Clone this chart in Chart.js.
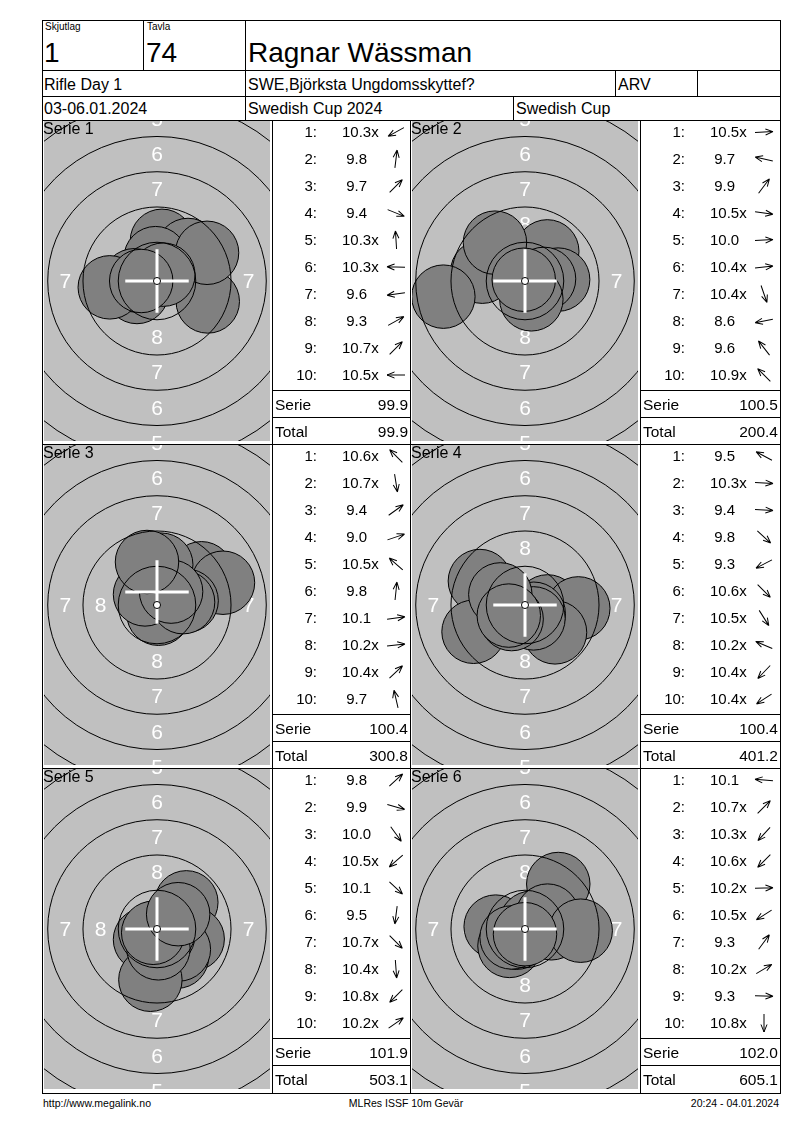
<!DOCTYPE html>
<html>
<head>
<meta charset="utf-8">
<script src="https://cdn.jsdelivr.net/npm/chart.js@4.4.1/dist/chart.umd.min.js"></script>
<style>
  body { margin: 0; background: #fff; }
  #page { position: relative; width: 800px; height: 1130px; font-family: "Liberation Sans", Arial, sans-serif; color: #000; overflow: hidden; }
  .ln { position: absolute; background: #000; }
  .tx { position: absolute; white-space: pre; }
  canvas { position: absolute; }
</style>
</head>
<body>
<div id="page"></div>
<script>
// header texts
const headerTop = ['Skjutlag', 'Tavla'];
const headerBig = ['1', '74', 'Ragnar Wässman'];
const headerRow2 = ['Rifle Day 1', 'SWE,Björksta Ungdomsskyttef?', 'ARV', ''];
const headerRow3 = ['03-06.01.2024', 'Swedish Cup 2024', 'Swedish Cup'];
const footer = ['http://www.megalink.no', 'MLRes ISSF 10m Gevär', '20:24 - 04.01.2024'];

const serieNames = ['Serie 1', 'Serie 2', 'Serie 3', 'Serie 4', 'Serie 5', 'Serie 6'];

// shot values per series
const shotScores = [
  ['10.3x', '9.8', '9.7', '9.4', '10.3x', '10.3x', '9.6', '9.3', '10.7x', '10.5x'],
  ['10.5x', '9.7', '9.9', '10.5x', '10.0', '10.4x', '10.4x', '8.6', '9.6', '10.9x'],
  ['10.6x', '10.7x', '9.4', '9.0', '10.5x', '9.8', '10.1', '10.2x', '10.4x', '9.7'],
  ['9.5', '10.3x', '9.4', '9.8', '9.3', '10.6x', '10.5x', '10.2x', '10.4x', '10.4x'],
  ['9.8', '9.9', '10.0', '10.5x', '10.1', '9.5', '10.7x', '10.4x', '10.8x', '10.2x'],
  ['10.1', '10.7x', '10.3x', '10.6x', '10.2x', '10.5x', '9.3', '10.2x', '9.3', '10.8x']
];

// shot positions in mm from centre (x right, y up)
const shotX = [
  [-1.42, 0.35, 2.2, 3.6, -0.1, -1.62, -3.35, 3.55, 0.45, -1.12],
  [1.12, -3.03, 1.58, 1.1, 2.35, 1.35, 0.45, -5.79, -2.13, -0.09],
  [-0.62, 0.1, 3.15, 4.68, -0.85, 0.3, 2.1, 1.85, 1.0, -0.71],
  [-3.2, 1.6, 3.78, 2.13, -3.65, 0.62, 0.6, -1.75, -0.95, -1.15],
  [2.08, 2.53, 1.42, -0.85, 1.55, -0.47, 0.45, 0.1, -0.27, 1.5],
  [-2.08, 0.44, -1.1, -0.62, 1.87, -0.95, 2.36, 1.6, 3.95, 0.0]
];
const shotY = [
  [-0.78, 2.85, 2.2, -1.45, 1.62, 0.05, -0.45, 2.0, 0.45, 0.0],
  [0.05, 0.66, 2.1, -0.15, 0.1, 0.15, -1.3, -1.11, 2.72, 0.09],
  [0.62, -0.62, 2.25, 1.58, 0.75, 2.86, 0.3, 0.2, 0.95, 3.05],
  [1.7, -0.1, -0.24, -1.94, -1.9, -0.62, -0.95, 0.75, -1.0, -0.75],
  [1.89, -0.71, -1.96, -0.75, -1.45, -3.6, -0.45, -1.37, -0.27, 1.05],
  [0.17, 0.44, -1.2, -0.62, 0.05, -0.6, 3.19, 0.95, -0.12, -0.37]
];

// white cross position (mm) per series
const crossX = [0, 0, 0, 0, 0, 0];
const crossY = [0, 0, 0.92, 0, 0, 0];

const serieTotals = ['99.9', '100.5', '100.4', '100.4', '101.9', '102.0'];
const runningTotals = ['99.9', '200.4', '300.8', '401.2', '503.1', '605.1'];

const ringNumbers = [1, 2, 3, 4, 5, 6, 7, 8];

// target geometry (ISSF 10m air rifle, mm)
const PELLET_R = 2.25;
const TEN_R = 0.25;
const RING_STEP = 2.5;
const PX_PER_MM = 14.1;
const TW = 226, TH = 320;

const page = document.getElementById('page');

function hline(x1, x2, y) {
  const d = document.createElement('div');
  d.className = 'ln';
  d.style.cssText = `left:${x1}px;top:${y}px;width:${x2 - x1 + 1}px;height:1px`;
  page.appendChild(d);
}
function vline(x, y1, y2) {
  const d = document.createElement('div');
  d.className = 'ln';
  d.style.cssText = `left:${x}px;top:${y1}px;width:1px;height:${y2 - y1 + 1}px`;
  page.appendChild(d);
}
function txt(x, cy, s, size, align) {
  const d = document.createElement('div');
  d.className = 'tx';
  const h = Math.round(size * 2);
  let left = x, w = 400;
  if (align === 'right') left = x - w;
  if (align === 'center') left = x - w / 2;
  d.style.cssText = `left:${left}px;top:${cy - h / 2}px;width:${w}px;height:${h}px;line-height:${h}px;font-size:${size}px;text-align:${align || 'left'}`;
  d.textContent = s;
  page.appendChild(d);
  return d;
}
function arrow(cx, cy, ang) {
  const ns = 'http://www.w3.org/2000/svg';
  const svg = document.createElementNS(ns, 'svg');
  svg.setAttribute('width', 24);
  svg.setAttribute('height', 24);
  svg.style.cssText = `position:absolute;left:${cx - 12}px;top:${cy - 12}px`;
  const g = document.createElementNS(ns, 'g');
  g.setAttribute('transform', `translate(12,12) rotate(${-ang})`);
  const p = document.createElementNS(ns, 'path');
  p.setAttribute('d', 'M-9,0 L9,0 M9,0 L1.5,-3 M9,0 L1.5,3');
  p.setAttribute('stroke', '#000');
  p.setAttribute('stroke-width', '1');
  p.setAttribute('fill', 'none');
  g.appendChild(p);
  svg.appendChild(g);
  page.appendChild(svg);
}

// ---- header ----
hline(42, 780, 20);
hline(42, 780, 70);
hline(42, 780, 96);
hline(42, 780, 120);
vline(42, 20, 1093);
vline(780, 20, 1093);
vline(143, 20, 70);
vline(245, 20, 120);
vline(615, 70, 96);
vline(697, 70, 96);
vline(513, 96, 120);

txt(45, 27, headerTop[0], 10);
txt(147, 27, headerTop[1], 10);
txt(44, 53, headerBig[0], 28);
txt(146, 53, headerBig[1], 28);
txt(248, 53, headerBig[2], 28);
txt(44, 85, headerRow2[0], 16);
txt(248, 85, headerRow2[1], 16);
txt(618, 85, headerRow2[2], 16);
txt(44, 109, headerRow3[0], 16);
txt(248, 109, headerRow3[1], 16);
txt(516, 109, headerRow3[2], 16);

txt(43, 1103, footer[0], 10.5);
txt(406, 1103, footer[1], 10.5, 'center');
txt(779, 1103, footer[2], 10.5, 'right');

// ---- target plugin ----
const targetPlugin = {
  id: 'target',
  beforeDatasetsDraw(chart, args, opts) {
    const { ctx, chartArea: a, scales: { x, y } } = chart;
    const cx = x.getPixelForValue(0), cy = y.getPixelForValue(0);
    const k = x.getPixelForValue(1) - cx;
    ctx.save();
    ctx.beginPath();
    ctx.rect(a.left, a.top, a.right - a.left, a.bottom - a.top);
    ctx.clip();
    ctx.fillStyle = '#c0c0c0';
    ctx.fillRect(a.left, a.top, a.right - a.left, a.bottom - a.top);
    ctx.fillStyle = '#ffffff';
    ctx.font = '21px "Liberation Sans", Arial, sans-serif';
    ctx.textAlign = 'center';
    ctx.textBaseline = 'middle';
    ringNumbers.forEach(n => {
      const r = ((10 - n) * RING_STEP - 1.0) * k;
      ctx.fillText(String(n), cx, cy - r + 1);
      ctx.fillText(String(n), cx, cy + r + 1);
      ctx.fillText(String(n), cx - r, cy + 1);
      ctx.fillText(String(n), cx + r, cy + 1);
    });
    ctx.restore();
  },
  afterDatasetsDraw(chart, args, opts) {
    const { ctx, chartArea: a, scales: { x, y } } = chart;
    const cx = x.getPixelForValue(0), cy = y.getPixelForValue(0);
    const k = x.getPixelForValue(1) - cx;
    ctx.save();
    ctx.beginPath();
    ctx.rect(a.left, a.top, a.right - a.left, a.bottom - a.top);
    ctx.clip();
    ctx.strokeStyle = '#000';
    ctx.lineWidth = 1;
    for (let n = 1; n <= 9; n++) {
      const r = (TEN_R + (10 - n) * RING_STEP) * k;
      ctx.beginPath();
      ctx.arc(cx, cy, r, 0, Math.PI * 2);
      ctx.stroke();
    }
    // cross
    const i = opts.index;
    const px = x.getPixelForValue(crossX[i]), py = y.getPixelForValue(crossY[i]);
    const arm = PELLET_R * k;
    ctx.strokeStyle = '#fff';
    ctx.lineWidth = 3;
    ctx.beginPath();
    ctx.moveTo(px - arm, py); ctx.lineTo(px + arm, py);
    ctx.moveTo(px, py - arm); ctx.lineTo(px, py + arm);
    ctx.stroke();
    // ten dot
    ctx.beginPath();
    ctx.arc(cx, cy, Math.max(TEN_R * k, 3.5), 0, Math.PI * 2);
    ctx.fillStyle = '#fff';
    ctx.fill();
    ctx.strokeStyle = '#000';
    ctx.lineWidth = 1;
    ctx.stroke();
    ctx.restore();
  }
};

function pelletRadius(c) {
  const s = c.chart.scales.x;
  return s.getPixelForValue(PELLET_R) - s.getPixelForValue(0);
}

// ---- panels ----
const xr = TW / 2 / PX_PER_MM, yr = TH / 2 / PX_PER_MM;
for (let i = 0; i < 6; i++) {
  const row = Math.floor(i / 2), col = i % 2;
  const top = 120 + row * 324;
  const cellL = col ? 410 : 42;
  const listL = col ? 640 : 272;
  const listR = col ? 780 : 410;

  if (row > 0) hline(42, 780, top);
  if (col === 0) vline(272, top, top + 324);
  if (col === 1) { vline(410, top, top + 324); vline(640, top, top + 324); }
  hline(listL, listR, top + 270);
  hline(listL, listR, top + 297);
  if (i >= 4) hline(42, 780, 1093);

  const cv = document.createElement('canvas');
  cv.width = TW; cv.height = TH;
  cv.style.cssText = `left:${cellL + 2}px;top:${top + 1}px;width:${TW}px;height:${TH}px`;
  page.appendChild(cv);

  const pts = shotX[i].map((v, j) => ({ x: v, y: shotY[i][j] }));
  new Chart(cv, {
    type: 'scatter',
    data: {
      datasets: [{
        data: pts, showLine: false,
        pointBackgroundColor: '#808080', pointBorderColor: '#000000', pointBorderWidth: 1,
        pointRadius: pelletRadius
      }]
    },
    options: {
      responsive: false,
      animation: false,
      events: [],
      layout: { padding: 0 },
      plugins: { legend: { display: false }, tooltip: { enabled: false }, target: { index: i } },
      scales: {
        x: { type: 'linear', min: -xr, max: xr, display: false },
        y: { type: 'linear', min: -yr, max: yr, display: false }
      }
    },
    plugins: [targetPlugin]
  });

  txt(cellL + 1, top + 9, serieNames[i], 16);

  shotScores[i].forEach((s, j) => {
    const cy = top + 12 + j * 27;
    txt(listL + 45, cy, (j + 1) + ':', 15, 'right');
    txt(listL + 70, cy, (parseFloat(s) < 10 ? ' ' : '') + s, 15);
    const ang = Math.atan2(shotY[i][j], shotX[i][j]) * 180 / Math.PI;
    arrow(listL + 124, cy, ang);
  });
  txt(listL + 3, top + 284, 'Serie', 15.5);
  txt(listR - 2, top + 284, serieTotals[i], 15.5, 'right');
  txt(listL + 3, top + 311, 'Total', 15.5);
  txt(listR - 2, top + 311, runningTotals[i], 15.5, 'right');
}
</script>
</body>
</html>
